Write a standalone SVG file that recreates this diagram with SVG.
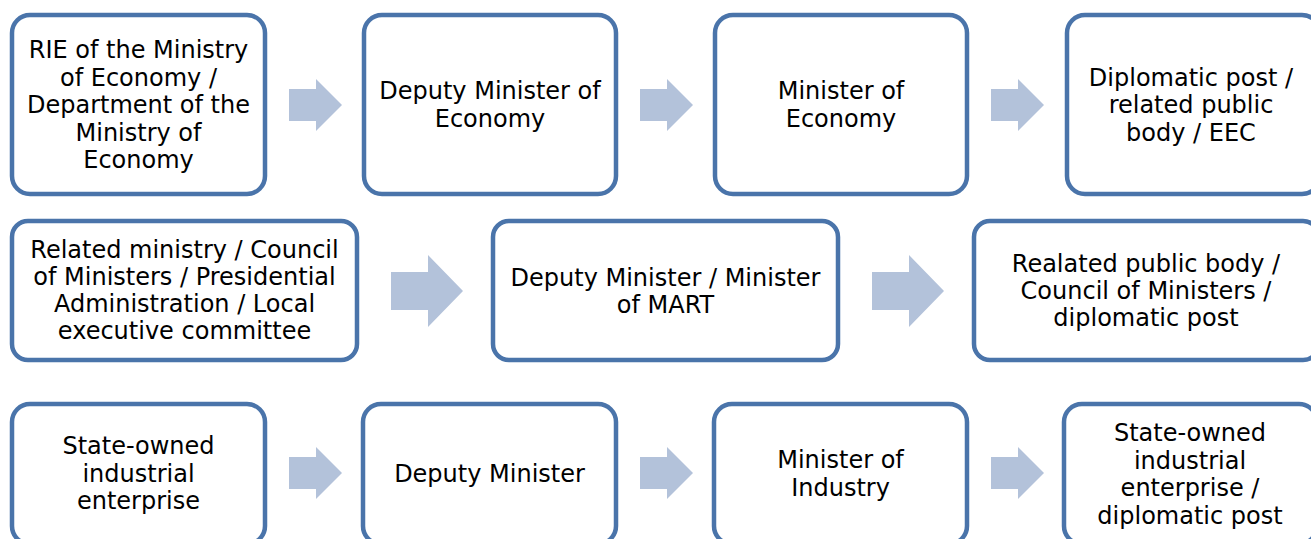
<svg xmlns="http://www.w3.org/2000/svg" width="1311" height="539" viewBox="0 0 1311 539">
  <style>
    .box { fill: #ffffff; stroke: #4a74aa; stroke-width: 4.5; }
    .arrow { fill: #b3c2da; }
    text { font-family: "DejaVu Sans", "Open Sans", sans-serif; font-size: 24px; fill: #000000; text-anchor: middle; dominant-baseline: central; }
  </style>
  <rect width="1311" height="539" fill="#ffffff"/>

  <!-- connectors -->
  <g id="connectors">
    <polygon class="arrow" points="289,89 316,89 316,79 342,105 316,131 316,121 289,121"/>
    <polygon class="arrow" points="640,89 667,89 667,79 693,105 667,131 667,121 640,121"/>
    <polygon class="arrow" points="991,89 1018,89 1018,79 1044,105 1018,131 1018,121 991,121"/>
    <polygon class="arrow" points="391,272 428,272 428,255 463,291 428,327 428,310 391,310"/>
    <polygon class="arrow" points="872,272 909,272 909,255 944,291 909,327 909,310 872,310"/>
    <polygon class="arrow" points="289,457 316,457 316,447 342,473 316,499 316,489 289,489"/>
    <polygon class="arrow" points="640,457 667,457 667,447 693,473 667,499 667,489 640,489"/>
    <polygon class="arrow" points="991,457 1018,457 1018,447 1044,473 1018,499 1018,489 991,489"/>
  </g>

  <!-- row 1 -->
  <g id="n-rie">
    <rect class="box" x="12" y="15" width="253" height="179" rx="18"/>
    <text x="138.5" y="50">RIE of the Ministry</text>
    <text x="138.5" y="77.5">of Economy /</text>
    <text x="138.5" y="105">Department of the</text>
    <text x="138.5" y="132.5">Ministry of</text>
    <text x="138.5" y="160">Economy</text>
  </g>
  <g id="n-deputy-econ">
    <rect class="box" x="364" y="15" width="252" height="179" rx="18"/>
    <text x="490" y="91">Deputy Minister of</text>
    <text x="490" y="118.5">Economy</text>
  </g>
  <g id="n-minister-econ">
    <rect class="box" x="715" y="15" width="252" height="179" rx="18"/>
    <text x="841" y="91">Minister of</text>
    <text x="841" y="118.5">Economy</text>
  </g>
  <g id="n-diplomatic">
    <rect class="box" x="1067" y="15" width="253" height="179" rx="18"/>
    <text x="1191" y="77.5">Diplomatic post /</text>
    <text x="1191" y="105">related public</text>
    <text x="1191" y="132.5">body / EEC</text>
  </g>

  <!-- row 2 -->
  <g id="n-related-ministry">
    <rect class="box" x="12" y="221" width="345" height="139" rx="16"/>
    <text x="184.5" y="250">Related ministry / Council</text>
    <text x="184.5" y="277">of Ministers / Presidential</text>
    <text x="184.5" y="304">Administration / Local</text>
    <text x="184.5" y="331">executive committee</text>
  </g>
  <g id="n-mart">
    <rect class="box" x="493" y="221" width="345" height="139" rx="16"/>
    <text x="665.5" y="278">Deputy Minister / Minister</text>
    <text x="665.5" y="305">of MART</text>
  </g>
  <g id="n-public-body">
    <rect class="box" x="974" y="221" width="345" height="139" rx="16"/>
    <text x="1146" y="264">Realated public body /</text>
    <text x="1146" y="291">Council of Ministers /</text>
    <text x="1146" y="318">diplomatic post</text>
  </g>

  <!-- row 3 -->
  <g id="n-soe">
    <rect class="box" x="12" y="404" width="253" height="140" rx="18"/>
    <text x="138.5" y="446">State-owned</text>
    <text x="138.5" y="473.5">industrial</text>
    <text x="138.5" y="501">enterprise</text>
  </g>
  <g id="n-deputy">
    <rect class="box" x="363" y="404" width="253" height="140" rx="18"/>
    <text x="489.5" y="474">Deputy Minister</text>
  </g>
  <g id="n-minister-industry">
    <rect class="box" x="714" y="404" width="253" height="140" rx="18"/>
    <text x="840.5" y="460">Minister of</text>
    <text x="840.5" y="487.5">Industry</text>
  </g>
  <g id="n-soe-diplomatic">
    <rect class="box" x="1064" y="404" width="253" height="140" rx="18"/>
    <text x="1190" y="433">State-owned</text>
    <text x="1190" y="460.5">industrial</text>
    <text x="1190" y="488">enterprise /</text>
    <text x="1190" y="515.5">diplomatic post</text>
  </g>
</svg>
